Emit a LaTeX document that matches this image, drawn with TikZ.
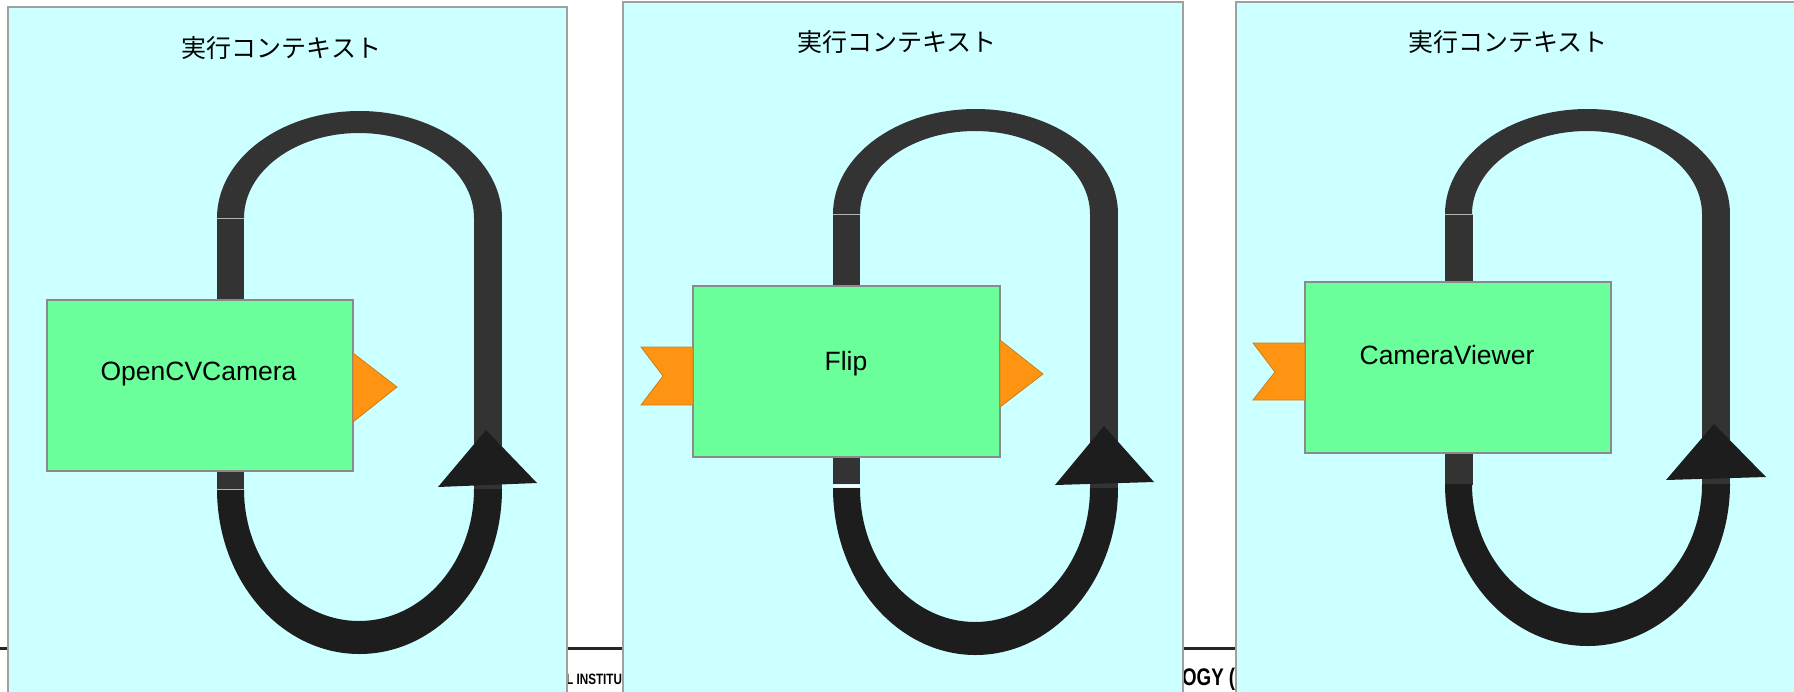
\documentclass[tikz,border=0pt]{standalone}
\usepackage{fontspec}
\setmainfont{Liberation Sans}
\newfontfamily\jpfont{Noto Sans CJK JP}
\definecolor{panelbg}{HTML}{CCFFFF}
\definecolor{panelbd}{HTML}{A0A0A0}
\definecolor{boxfill}{HTML}{6AFF9A}
\definecolor{boxbd}{HTML}{8A8A8A}
\definecolor{portfill}{HTML}{FF9412}
\definecolor{portbd}{HTML}{C8801A}
\definecolor{loopgray}{HTML}{333333}
\definecolor{loopblack}{HTML}{1D1D1D}
\begin{document}
\begin{tikzpicture}[x=1pt,y=-1pt,
  panelst/.style={fill=panelbg,draw=panelbd,line width=1.6pt},
  boxst/.style={fill=boxfill,draw=boxbd,line width=1.3pt,inner sep=0pt},
  portst/.style={fill=portfill,draw=portbd,line width=0.8pt},
  lbl/.style={font=\fontsize{26.5}{30}\selectfont,text=black,inner sep=0pt},
  ttl/.style={font=\jpfont\fontsize{25}{28}\selectfont,text=black,inner sep=0pt},
  frag/.style={font=\bfseries,text=black,inner sep=0pt,xscale=0.78},
  seam/.style={draw=gray!60,line width=0.8pt}]
\useasboundingbox (0,0) rectangle (1794,691);
\fill[white] (0,0) rectangle (1794,691);
% footer line and text fragments
\fill[black!85] (0,647) rectangle (1794,650);
\node[frag,anchor=base west,font=\bfseries\fontsize{15}{16}\selectfont] (f1) at (566,684) {L INSTITU};
\node[frag,anchor=base west,font=\bfseries\fontsize{24}{26}\selectfont] (f2) at (1182,685) {OGY (};
% panels
\draw[panelst] (8,7) rectangle (567,700);
\draw[panelst] (623,2) rectangle (1183,700);
\draw[panelst] (1236,2) rectangle (1797,700);
% titles
\node[ttl,anchor=base] (t1) at (281.5,57) {実行コンテキスト};
\node[ttl,anchor=base] (t2) at (897,51) {実行コンテキスト};
\node[ttl,anchor=base] (t3) at (1508,51) {実行コンテキスト};
% ---------- panel 1 loop ----------
\fill[loopgray] (217,218) arc[start angle=180,end angle=360,x radius=142.5,y radius=107]
  -- (474,218) arc[start angle=0,end angle=-180,x radius=115,y radius=85] -- cycle;
\fill[loopgray] (217,218) rectangle (244,490);
\fill[loopgray] (474,218) rectangle (502,489);
\fill[loopblack] (217,489) arc[start angle=180,end angle=0,x radius=142.5,y radius=165]
  -- (474,489) arc[start angle=0,end angle=180,x radius=115,y radius=132] -- cycle;
\fill[loopblack] (438,487) -- (486,430) -- (537,483) -- cycle;
\draw[seam] (217,218) -- (244,218);
\draw[seam] (217,489) -- (244,489);
\node[boxst,minimum width=306pt,minimum height=171pt] (cam) at (200,385.5) {};
\node[lbl,anchor=base] (camt) at (198.5,380) {OpenCVCamera};
\draw[portst] (353,353) -- (397,387) -- (353,422) -- cycle;
% ---------- panel 2 loop ----------
\fill[loopgray] (833,214) arc[start angle=180,end angle=360,x radius=142.5,y radius=105]
  -- (1090,214) arc[start angle=0,end angle=-180,x radius=115,y radius=83] -- cycle;
\fill[loopgray] (833,214) rectangle (860,484);
\fill[loopgray] (1090,214) rectangle (1118,488);
\fill[loopblack] (833,488) arc[start angle=180,end angle=0,x radius=142.5,y radius=167]
  -- (1090,488) arc[start angle=0,end angle=180,x radius=115,y radius=134] -- cycle;
\fill[loopblack] (1055,485) -- (1104,426) -- (1154,482) -- cycle;
\draw[seam] (833,214) -- (860,214);
\draw[seam,white,line width=1.5pt] (833,486) -- (860,486);
\node[boxst,minimum width=307pt,minimum height=171pt] (flip) at (846.5,371.5) {};
\node[lbl,anchor=base] (flipt) at (846,370) {Flip};
\draw[portst] (641,347) -- (693,347) -- (693,405) -- (641,405) -- (663,376) -- cycle;
\draw[portst] (1000,340) -- (1043,374) -- (1000,407) -- cycle;
% ---------- panel 3 loop ----------
\fill[loopgray] (1445,214) arc[start angle=180,end angle=360,x radius=142.5,y radius=105]
  -- (1702,214) arc[start angle=0,end angle=-180,x radius=115,y radius=83] -- cycle;
\fill[loopgray] (1445,214) rectangle (1473,485);
\fill[loopgray] (1702,214) rectangle (1730,484);
\fill[loopblack] (1445,484) arc[start angle=180,end angle=0,x radius=142.5,y radius=162]
  -- (1702,484) arc[start angle=0,end angle=180,x radius=115,y radius=129] -- cycle;
\fill[loopblack] (1666,480) -- (1714,424) -- (1766,477) -- cycle;
\draw[seam] (1445,214) -- (1473,214);
\node[boxst,minimum width=306pt,minimum height=171pt] (view) at (1458,367.5) {};
\node[lbl,anchor=base] (viewt) at (1447,364) {CameraViewer};
\draw[portst] (1253,343) -- (1305,343) -- (1305,400) -- (1253,400) -- (1275,372) -- cycle;
\end{tikzpicture}
\end{document}
